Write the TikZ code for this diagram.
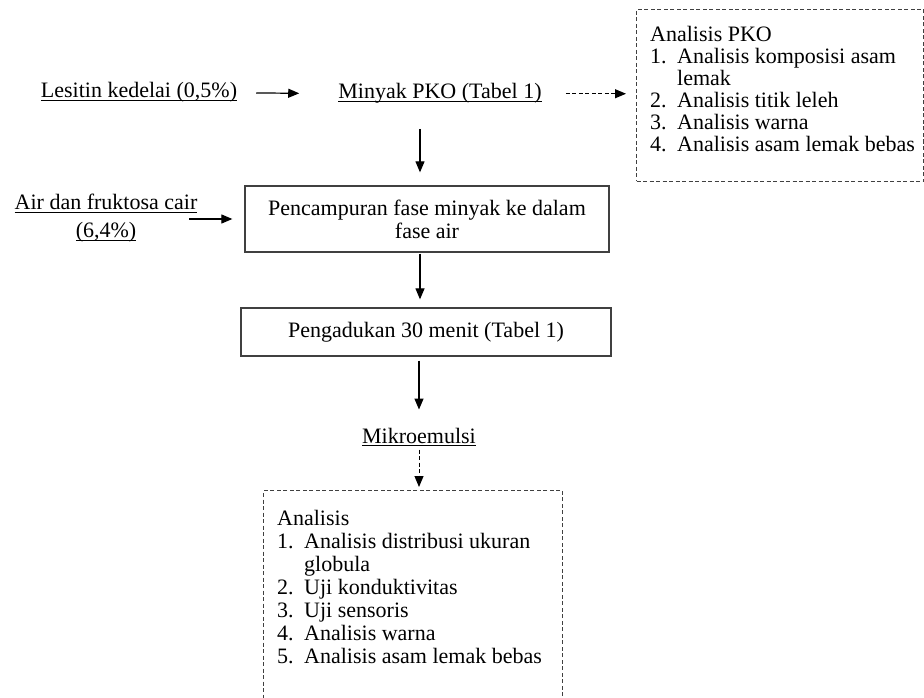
\documentclass[tikz,border=0pt]{standalone}
\usepackage{fontspec}
\setmainfont{Liberation Serif}
\usetikzlibrary{arrows.meta}
\newsavebox\ulbox
\newcommand\ulx[1]{\sbox\ulbox{#1}\rlap{\rule[-3.3pt]{\wd\ulbox}{1.1pt}}\usebox\ulbox}
\newcommand\itemlines[2]{\vtop{\baselineskip=#1\lineskiplimit=-100pt\lineskip=0pt #2}}
\newcommand\li[2]{\hbox{\makebox[27pt][l]{#1}#2}}
\begin{document}
\begin{tikzpicture}[x=1pt,y=-1pt,
  every node/.style={font=\fontsize{22}{23}\selectfont, inner sep=0pt},
  arr/.style={line width=1.2pt, -{Triangle[length=11pt,width=9pt]}},
  darr/.style={line width=1pt, dash pattern=on 4pt off 2.5pt, -{Triangle[length=11pt,width=9pt]}},
  sbox/.style={draw=black!75, line width=1.3pt},
  dbox/.style={draw=black!75, line width=1pt, dash pattern=on 4pt off 2.5pt}]
\useasboundingbox (0,0) rectangle (924,698);
\fill[white] (0,0) rectangle (924,698);
\clip (0,0) rectangle (924,698);

\coordinate (vx) at (420,0);

\node[anchor=base] (les) at (139,98) {\ulx{Lesitin kedelai (0,5\%)}};
\node[anchor=base] (min) at (440,99) {\ulx{Minyak PKO (Tabel 1)}};

\node[dbox, anchor=north west, minimum width=287pt, minimum height=172pt] (pko) at (636,9) {};
\node[anchor=base west] (pkot) at (650,42) {\itemlines{22pt}{\hbox{Analisis PKO}\li{1.}{Analisis komposisi asam}\li{}{lemak}\li{2.}{Analisis titik leleh}\li{3.}{Analisis warna}\li{4.}{Analisis asam lemak bebas}}};

\node[align=center] (air) at (106,218) {\ulx{Air dan fruktosa cair}\\[5pt]\ulx{(6,4\%)}};
\node[sbox, minimum width=364pt, minimum height=66pt, align=center] (mix) at (427,219) {Pencampuran fase minyak ke dalam\\fase air};
\node[sbox, minimum width=370pt, minimum height=48pt] (aduk) at (426,332) {Pengadukan 30 menit (Tabel 1)};

\node[anchor=base] (mik) at (419,443) {\ulx{Mikroemulsi}};
\node[dbox, anchor=north west, minimum width=299pt, minimum height=225pt] (an) at (263,490) {};
\node[anchor=base west] (ant) at (277,525) {\itemlines{23pt}{\hbox{Analisis}\li{1.}{Analisis distribusi ukuran}\li{}{globula}\li{2.}{Uji konduktivitas}\li{3.}{Uji sensoris}\li{4.}{Analisis warna}\li{5.}{Analisis asam lemak bebas}}};

\draw[arr, shorten <=19pt, shorten >=39pt] (les.east) -- (min.west);
\draw[darr, shorten <=24pt, shorten >=10pt] (min.east) -- (min.east -| pko.west);
\draw[arr, shorten <=25pt, shorten >=13pt] (min.south -| vx) -- (mix.north -| vx);
\draw[arr, shorten <=1pt, shorten >=8pt] (mix.south -| vx) -- (aduk.north -| vx);
\draw[arr, shorten <=4pt, shorten >=18pt] (aduk.south -| mik.north) -- (mik.north);
\draw[darr, shorten <=3pt, shorten >=3pt] (mik.south) -- (mik.south |- an.north);
\draw[arr, shorten <=-8.5pt, shorten >=12pt] (air.east |- mix.west) -- (mix.west);
\end{tikzpicture}
\end{document}
